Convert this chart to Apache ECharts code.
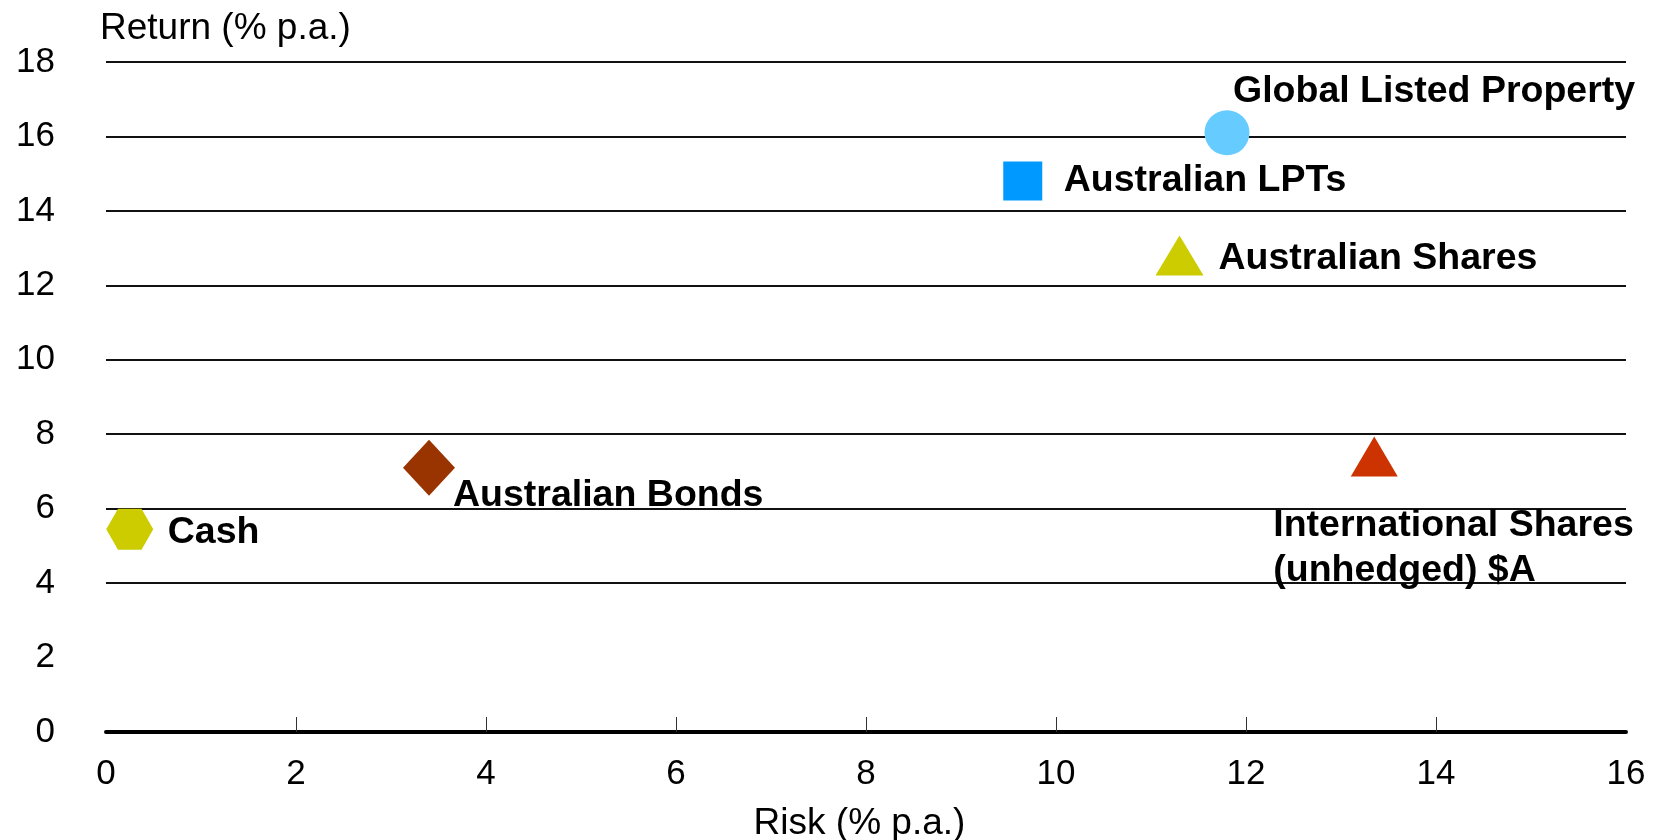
<!DOCTYPE html>
<html>
<head>
<meta charset="utf-8">
<script src="https://cdn.jsdelivr.net/npm/echarts@6/dist/echarts.min.js"></script>
<style>
  html, body { margin: 0; padding: 0; background: #fff; }
  #chart { width: 1654px; height: 840px; }
</style>
</head>
<body>
<div id="chart"></div>
<script>
// Asset classes: risk (x) versus return (y), both in % p.a.
const assetNames = [
  'Global Listed Property',
  'Australian LPTs',
  'Australian Shares',
  'International Shares\n(unhedged) $A',
  'Australian Bonds',
  'Cash'
];
const riskValues   = [11.8, 9.65, 11.3, 13.35, 3.4, 0.25];
const returnValues = [16.1, 14.8, 12.8, 7.4, 7.1, 5.45];

// Horizontal reference lines and x-axis tick positions
const gridLineValues = [4, 6, 8, 10, 12, 14, 16, 18];
const xTickValues = [2, 4, 6, 8, 10, 12, 14];

// Marker appearance per asset
const markerColors = ['#66CCFF', '#0099FF', '#CCCC00', '#CC3300', '#993300', '#CCCC00'];
const markerSymbols = [
  'circle',
  'rect',
  'triangle',
  'triangle',
  'diamond',
  'path://M0,10 L5,0 L15,0 L20,10 L15,20 L5,20 Z'
];
const markerSizes = [[45, 45], [39, 39], [48, 40], [47, 40], [52, 56], [47, 41]];
// Label offset from the marker centre: [dx, dy]
const labelOffsets = [[6, -41], [41, 0], [39, 3], [-101, 92], [24, 28], [38, 4]];

const FONT = '"Liberation Sans", Arial, Helvetica, sans-serif';

const chart = echarts.init(document.getElementById('chart'), null, { renderer: 'canvas' });

const assetSeries = assetNames.map((name, i) => ({
  name: name,
  type: 'scatter',
  symbol: markerSymbols[i],
  symbolSize: markerSizes[i],
  itemStyle: { color: markerColors[i], opacity: 1 },
  label: {
    show: true,
    position: 'inside',
    align: 'left',
    verticalAlign: 'middle',
    offset: labelOffsets[i],
    formatter: name,
    color: '#000',
    fontFamily: FONT,
    fontWeight: 'bold',
    fontSize: 37.5,
    lineHeight: 45
  },
  emphasis: { disabled: true },
  data: [[riskValues[i], returnValues[i]]],
  z: 5
}));

// Empty series carrying the horizontal grid lines
const gridLineSeries = {
  type: 'scatter',
  data: [],
  silent: true,
  z: 1,
  markLine: {
    silent: true,
    symbol: ['none', 'none'],
    label: { show: false },
    lineStyle: { color: '#111', width: 2, type: 'solid' },
    emphasis: { disabled: true },
    animation: false,
    data: gridLineValues.map(v => ({ yAxis: v }))
  }
};

chart.setOption({
  animation: false,
  backgroundColor: '#fff',
  grid: {
    left: 106, right: 28, top: 62, bottom: 108,
    containLabel: false,
    outerBoundsMode: 'none'
  },
  xAxis: {
    type: 'value',
    min: 0,
    max: 16,
    interval: 2,
    name: 'Risk (% p.a.)',
    nameLocation: 'middle',
    nameGap: 73,
    nameTextStyle: {
      color: '#000', fontFamily: FONT, fontSize: 37,
      padding: [0, 13, 0, 0]
    },
    axisLine: { show: true, onZero: false, lineStyle: { color: '#000', width: 4 } },
    axisTick: {
      show: true,
      inside: true,
      length: 15,
      customValues: xTickValues,
      lineStyle: { color: '#333', width: 1 }
    },
    axisLabel: { color: '#000', fontFamily: FONT, fontSize: 35, margin: 25 },
    splitLine: { show: false }
  },
  yAxis: {
    type: 'value',
    min: 0,
    max: 18,
    interval: 2,
    name: 'Return (% p.a.)',
    nameLocation: 'end',
    nameGap: 33,
    nameTextStyle: {
      color: '#000', fontFamily: FONT, fontSize: 37,
      align: 'left', verticalAlign: 'middle',
      padding: [0, 0, 0, -6]
    },
    axisLine: { show: false },
    axisTick: { show: false },
    axisLabel: { color: '#000', fontFamily: FONT, fontSize: 35, margin: 51 },
    splitLine: { show: false }
  },
  series: [gridLineSeries].concat(assetSeries)
});
</script>
</body>
</html>
